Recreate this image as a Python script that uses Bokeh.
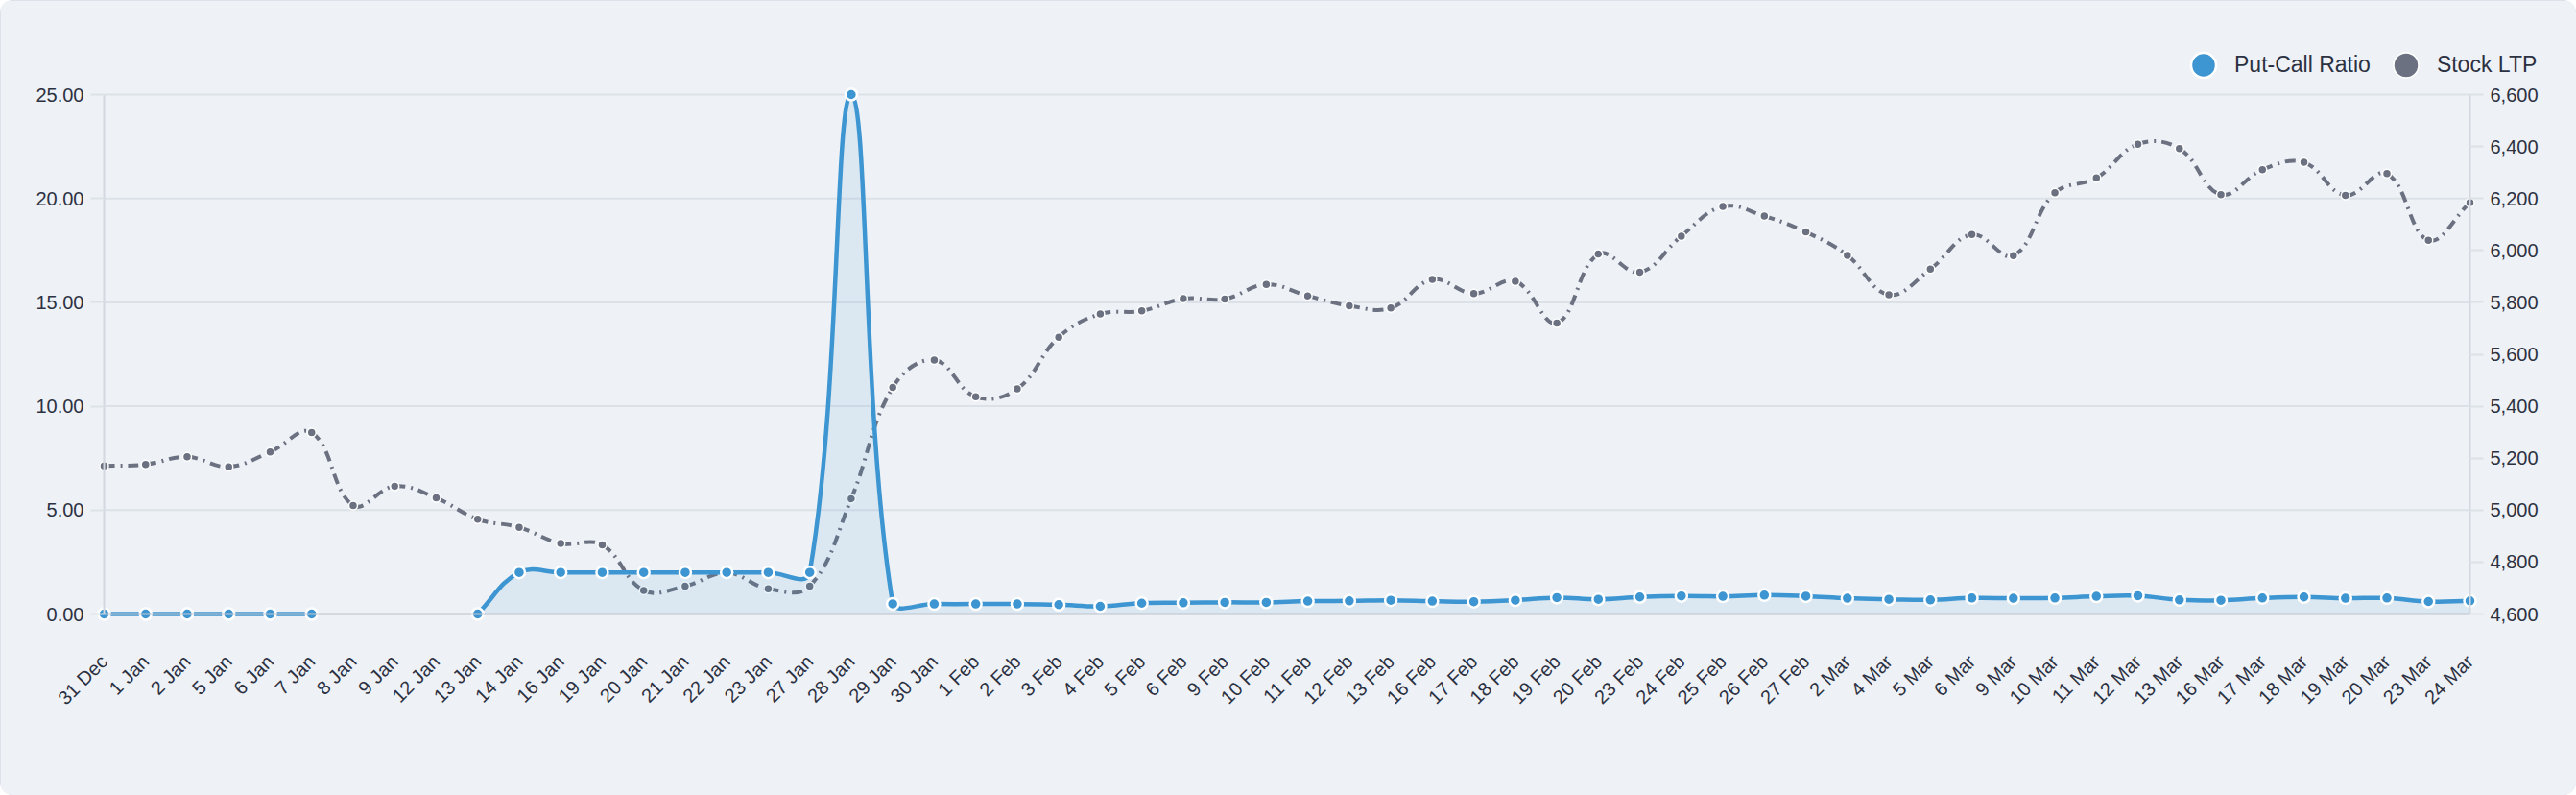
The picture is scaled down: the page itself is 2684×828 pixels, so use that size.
import math

from bokeh.embed import file_html
from bokeh.models import (FixedTicker, Legend, LegendItem, LinearAxis,
                          NumeralTickFormatter, Range1d)
from bokeh.plotting import figure
from bokeh.resources import INLINE

# chart data
dates = ["31 Dec", "1 Jan", "2 Jan", "5 Jan", "6 Jan", "7 Jan", "8 Jan", "9 Jan", "12 Jan", "13 Jan",
         "14 Jan", "16 Jan", "19 Jan", "20 Jan", "21 Jan", "22 Jan", "23 Jan", "27 Jan", "28 Jan", "29 Jan",
         "30 Jan", "1 Feb", "2 Feb", "3 Feb", "4 Feb", "5 Feb", "6 Feb", "9 Feb", "10 Feb", "11 Feb",
         "12 Feb", "13 Feb", "16 Feb", "17 Feb", "18 Feb", "19 Feb", "20 Feb", "23 Feb", "24 Feb", "25 Feb",
         "26 Feb", "27 Feb", "2 Mar", "4 Mar", "5 Mar", "6 Mar", "9 Mar", "10 Mar", "11 Mar", "12 Mar",
         "13 Mar", "16 Mar", "17 Mar", "18 Mar", "19 Mar", "20 Mar", "23 Mar", "24 Mar"]

put_call_ratio = [0, 0, 0, 0, 0, 0, None, None, None, 0,
                  2.0, 2.0, 2.0, 2.0, 2.0, 2.0, 2.0, 2.0, 25.0, 0.49,
                  0.48, 0.48, 0.48, 0.45, 0.37, 0.52, 0.54, 0.56, 0.56, 0.62,
                  0.63, 0.66, 0.62, 0.59, 0.66, 0.79, 0.71, 0.82, 0.87, 0.85,
                  0.91, 0.86, 0.76, 0.71, 0.68, 0.77, 0.76, 0.77, 0.85, 0.88,
                  0.68, 0.66, 0.77, 0.82, 0.76, 0.77, 0.60, 0.63]

stock_ltp = [5170, 5176, 5205, 5167, 5224, 5299, 5018, 5092, 5047, 4965,
             4934, 4872, 4866, 4691, 4707, 4759, 4697, 4707, 5044, 5472,
             5578, 5436, 5467, 5666, 5755, 5767, 5814, 5813, 5869, 5825,
             5787, 5778, 5888, 5834, 5881, 5720, 5986, 5916, 6055, 6169,
             6132, 6071, 5981, 5829, 5928, 6061, 5980, 6222, 6279, 6409,
             6392, 6215, 6311, 6339, 6212, 6296, 6039, 6184]

pcr_ticks = [0, 5, 10, 15, 20, 25]
ltp_ticks = [4600, 4800, 5000, 5200, 5400, 5600, 5800, 6000, 6200, 6400, 6600]

BLUE = "#3d95d1"
GRAY = "#6b7180"
BG = "#eef2f7"
GRID = "#dce1e8"
TEXT = "#2c3142"
FONT = "Liberation Sans"

W, H = 2684, 828
LEFT = 108         # x of the first date / left axis
PTOP = 98          # y of the 25.00 / 6,600 line
FW = 2465          # plot width (first to last date)
FH = 541           # height of the 0..25 span
n = len(dates)
kx = FW / (n - 1)


def controls(vals, lo, hi, t=0.4):
    # cubic control points (tension spline, done in pixel space)
    ky = FH / (hi - lo)
    segs = []
    c1 = [None] * n
    c2 = [None] * n
    for i, v in enumerate(vals):
        if v is None:
            continue
        cur = (i * kx, v * ky)
        prev = cur if i == 0 or vals[i - 1] is None else ((i - 1) * kx, vals[i - 1] * ky)
        nxt = cur if i == n - 1 or vals[i + 1] is None else ((i + 1) * kx, vals[i + 1] * ky)
        d01 = math.hypot(cur[0] - prev[0], cur[1] - prev[1])
        d12 = math.hypot(nxt[0] - cur[0], nxt[1] - cur[1])
        tot = d01 + d12
        fa = t * d01 / tot if tot else 0
        fb = t * d12 / tot if tot else 0
        dx, dy = nxt[0] - prev[0], nxt[1] - prev[1]
        c1[i] = (cur[0] - fa * dx, cur[1] - fa * dy)
        c2[i] = (cur[0] + fb * dx, cur[1] + fb * dy)
    def todata(pt):
        x = min(max(pt[0] / kx, 0), n - 1)
        y = min(max(pt[1] / ky, lo), hi)
        return x, y
    for i in range(n - 1):
        if vals[i] is None or vals[i + 1] is None:
            continue
        a = todata(c2[i])
        b = todata(c1[i + 1])
        segs.append((i, vals[i], a[0], a[1], b[0], b[1], i + 1, vals[i + 1]))
    return segs


def bez_cols(segs):
    cols = dict(x0=[], y0=[], cx0=[], cy0=[], cx1=[], cy1=[], x1=[], y1=[])
    for s in segs:
        for k, v in zip(["x0", "y0", "cx0", "cy0", "cx1", "cy1", "x1", "y1"], s):
            cols[k].append(v)
    return cols


def area_runs(segs, steps=24):
    runs = []
    cur_x, cur_y, last = [], [], None
    for s in segs:
        x0, y0, ax, ay, bx, by, x1, y1 = s
        if last is not None and x0 != last:
            runs.append((cur_x, cur_y))
            cur_x, cur_y = [], []
        for j in range(steps + 1):
            if cur_x and j == 0:
                continue
            t = j / steps
            u = 1 - t
            cur_x.append(u ** 3 * x0 + 3 * u * u * t * ax + 3 * u * t * t * bx + t ** 3 * x1)
            cur_y.append(u ** 3 * y0 + 3 * u * u * t * ay + 3 * u * t * t * by + t ** 3 * y1)
        last = x1
    if cur_x:
        runs.append((cur_x, cur_y))
    return runs


# the frame covers the whole canvas; axes sit at fixed data locations,
# so legend, labels and edge markers are never clipped
above = PTOP / FH                   # share of the 0..25 span above the top line
below = (H - PTOP - FH) / FH        # share below the zero line
p = figure(width=W, height=H,
           x_range=Range1d(-LEFT / kx, (W - LEFT) / kx),
           y_range=Range1d(-25 * below, 25 * (1 + above)),
           min_border=0, output_backend="svg", toolbar_location=None)
p.extra_y_ranges = {"ltp": Range1d(4600 - 2000 * below, 6600 + 2000 * above)}
p.background_fill_color = BG
p.border_fill_color = BG
p.outline_line_color = None
p.styles = {"border-radius": "14px", "overflow": "hidden",
            "outline": "2px solid #cdd3dd", "outline-offset": "-2px"}

p.xgrid.grid_line_color = None
p.ygrid.grid_line_color = None
p.segment(x0=[0] * len(pcr_ticks), x1=[n - 1] * len(pcr_ticks), y0=pcr_ticks, y1=pcr_ticks,
          line_color=GRID, line_width=2, level="underlay")

# axes
xa = p.xaxis[0]
xa.ticker = FixedTicker(ticks=list(range(n)))
xa.major_label_overrides = {i: d for i, d in enumerate(dates)}
xa.major_label_orientation = math.pi / 4
xa.major_tick_line_color = None
xa.minor_tick_line_color = None
xa.axis_line_color = "#c5cad3"
xa.axis_line_width = 2
xa.major_label_standoff = 40
xa.bounds = (0, n - 1)
xa.fixed_location = 0

ya = p.yaxis[0]
ya.ticker = FixedTicker(ticks=pcr_ticks)
ya.formatter = NumeralTickFormatter(format="0.00")
ya.bounds = (0, 25)
ya.fixed_location = 0

ra = LinearAxis(y_range_name="ltp", ticker=FixedTicker(ticks=ltp_ticks),
                formatter=NumeralTickFormatter(format="0,0"), bounds=(4600, 6600),
                fixed_location=n - 1)
p.add_layout(ra, "right")

for ax in (ya, ra):
    ax.axis_line_color = "#d3d8e0"
    ax.axis_line_width = 2
    ax.major_tick_line_color = GRID
    ax.major_tick_line_width = 2
    ax.major_tick_in = 0
    ax.major_tick_out = 14
    ax.minor_tick_line_color = None
    ax.major_label_standoff = 7

for ax in (xa, ya, ra):
    ax.major_label_text_font = FONT
    ax.major_label_text_font_size = "20px"
    ax.major_label_text_color = TEXT

# stock LTP (right axis)
ltp_segs = controls(stock_ltp, 4600, 6600)
p.bezier(source=bez_cols(ltp_segs), x0="x0", y0="y0", x1="x1", y1="y1",
         cx0="cx0", cy0="cy0", cx1="cx1", cy1="cy1",
         line_color=GRAY, line_width=4, line_dash="11 6 2 6", y_range_name="ltp")
ltp_pts = p.scatter(list(range(n)), stock_ltp, size=9, fill_color=GRAY,
                    line_color="white", line_width=1.5, y_range_name="ltp")

# put-call ratio (left axis)
pcr_segs = controls(put_call_ratio, 0, 25)
for xs, ys in area_runs(pcr_segs):
    p.varea(x=xs, y1=[0] * len(xs), y2=ys, fill_color=BLUE, fill_alpha=0.1)
p.bezier(source=bez_cols(pcr_segs), x0="x0", y0="y0", x1="x1", y1="y1",
         cx0="cx0", cy0="cy0", cx1="cx1", cy1="cy1",
         line_color=BLUE, line_width=4.5)
pcr_x = [i for i, v in enumerate(put_call_ratio) if v is not None]
pcr_y = [v for v in put_call_ratio if v is not None]
pcr_pts = p.scatter(pcr_x, pcr_y, size=12, fill_color=BLUE,
                    line_color="white", line_width=2.5)

legend = Legend(items=[LegendItem(label="Put-Call Ratio", renderers=[pcr_pts]),
                       LegendItem(label="Stock LTP", renderers=[ltp_pts])],
                orientation="horizontal", location=(2263, H - 100),
                glyph_width=65, glyph_height=65, label_standoff=0, spacing=4,
                padding=0, margin=0, border_line_color=None, background_fill_alpha=0,
                label_text_font=FONT, label_text_font_size="23px", label_text_color=TEXT)
p.add_layout(legend, "center")

open("out.html", "w").write(file_html(p, INLINE))
